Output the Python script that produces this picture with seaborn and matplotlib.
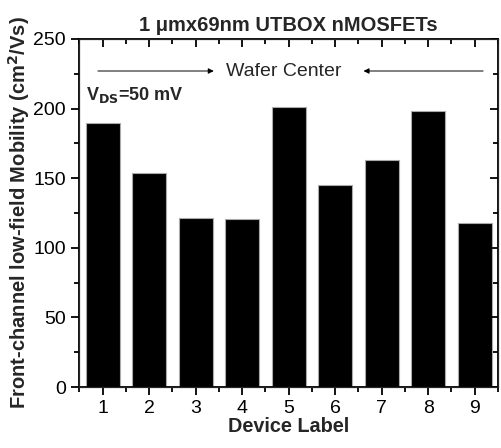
import numpy as np
import pandas as pd
import matplotlib
matplotlib.use('Agg')
import matplotlib.pyplot as plt
from matplotlib.ticker import MultipleLocator
import seaborn as sns

# данные
devices = ['1', '2', '3', '4', '5', '6', '7', '8', '9']
mobility = [190, 154, 121.5, 121, 201, 145, 163, 198.5, 118]

df = pd.DataFrame({'device': devices, 'mobility': mobility})

sns.set_style('ticks')
plt.rcParams['font.family'] = ['Liberation Sans', 'DejaVu Sans']

fig = plt.figure(figsize=(5.02, 4.48), dpi=100)
ax = fig.add_axes([0.158, 0.136, 0.834, 0.777])

sns.barplot(data=df, x='device', y='mobility', color='black',
            width=0.73, edgecolor='#aaaaaa', linewidth=0.8, ax=ax)

ax.set_xlim(-0.5, 8.5)
ax.set_ylim(0, 250)
ax.yaxis.set_major_locator(MultipleLocator(50))
ax.yaxis.set_minor_locator(MultipleLocator(25))
ax.xaxis.set_minor_locator(MultipleLocator(0.5))

for s in ax.spines.values():
    s.set_linewidth(1.3)
    s.set_color('black')

# верх и право — тики внутрь
axt = ax.twiny()
axt.set_xlim(ax.get_xlim())
axt.xaxis.set_major_locator(MultipleLocator(1))
axt.xaxis.set_minor_locator(MultipleLocator(0.5))
axt.tick_params(which='both', direction='in', top=True, labeltop=False,
                width=1.3, color='black')
axt.tick_params(which='major', length=6)
axt.tick_params(which='minor', length=3.5)
axr = ax.twinx()
axr.set_ylim(ax.get_ylim())
axr.yaxis.set_major_locator(MultipleLocator(50))
axr.yaxis.set_minor_locator(MultipleLocator(25))
axr.tick_params(which='both', direction='in', right=True, labelright=False,
                width=1.3, color='black')
axr.tick_params(which='major', length=6)
axr.tick_params(which='minor', length=3.5)
axr.grid(False)
axt.grid(False)

ax.tick_params(axis='both', which='both', bottom=True, left=True,
               direction='out', labelsize=14, colors='black', width=1.3)
ax.tick_params(which='major', length=6)
ax.tick_params(which='minor', length=3.5)

ax.set_xlabel('Device Label', fontsize=14.3, fontweight='bold', labelpad=0)
ax.set_ylabel('Front-channel low-field Mobility (cm$^\\mathbf{2}$/Vs)',
              fontsize=14.5, fontweight='bold', labelpad=1)
ax.set_title('1 \u03bcmx69nm UTBOX nMOSFETs', fontsize=14.5,
             fontweight='bold', pad=6)

# стрелки к центру пластины
ax.annotate('', xy=(2.45, 227), xytext=(-0.16, 227),
            arrowprops=dict(arrowstyle='-|>', color='black', lw=0.7,
                            mutation_scale=8))
ax.annotate('', xy=(5.55, 227), xytext=(8.24, 227),
            arrowprops=dict(arrowstyle='-|>', color='black', lw=0.7,
                            mutation_scale=8))
ax.text(3.9, 227, 'Wafer Center', ha='center', va='center', fontsize=14)
ax.text(-0.35, 210, r'V$_\mathbf{DS}$=50 mV', ha='left', va='center',
        fontsize=13, fontweight='bold')

fig.savefig('out.png', dpi=100)
